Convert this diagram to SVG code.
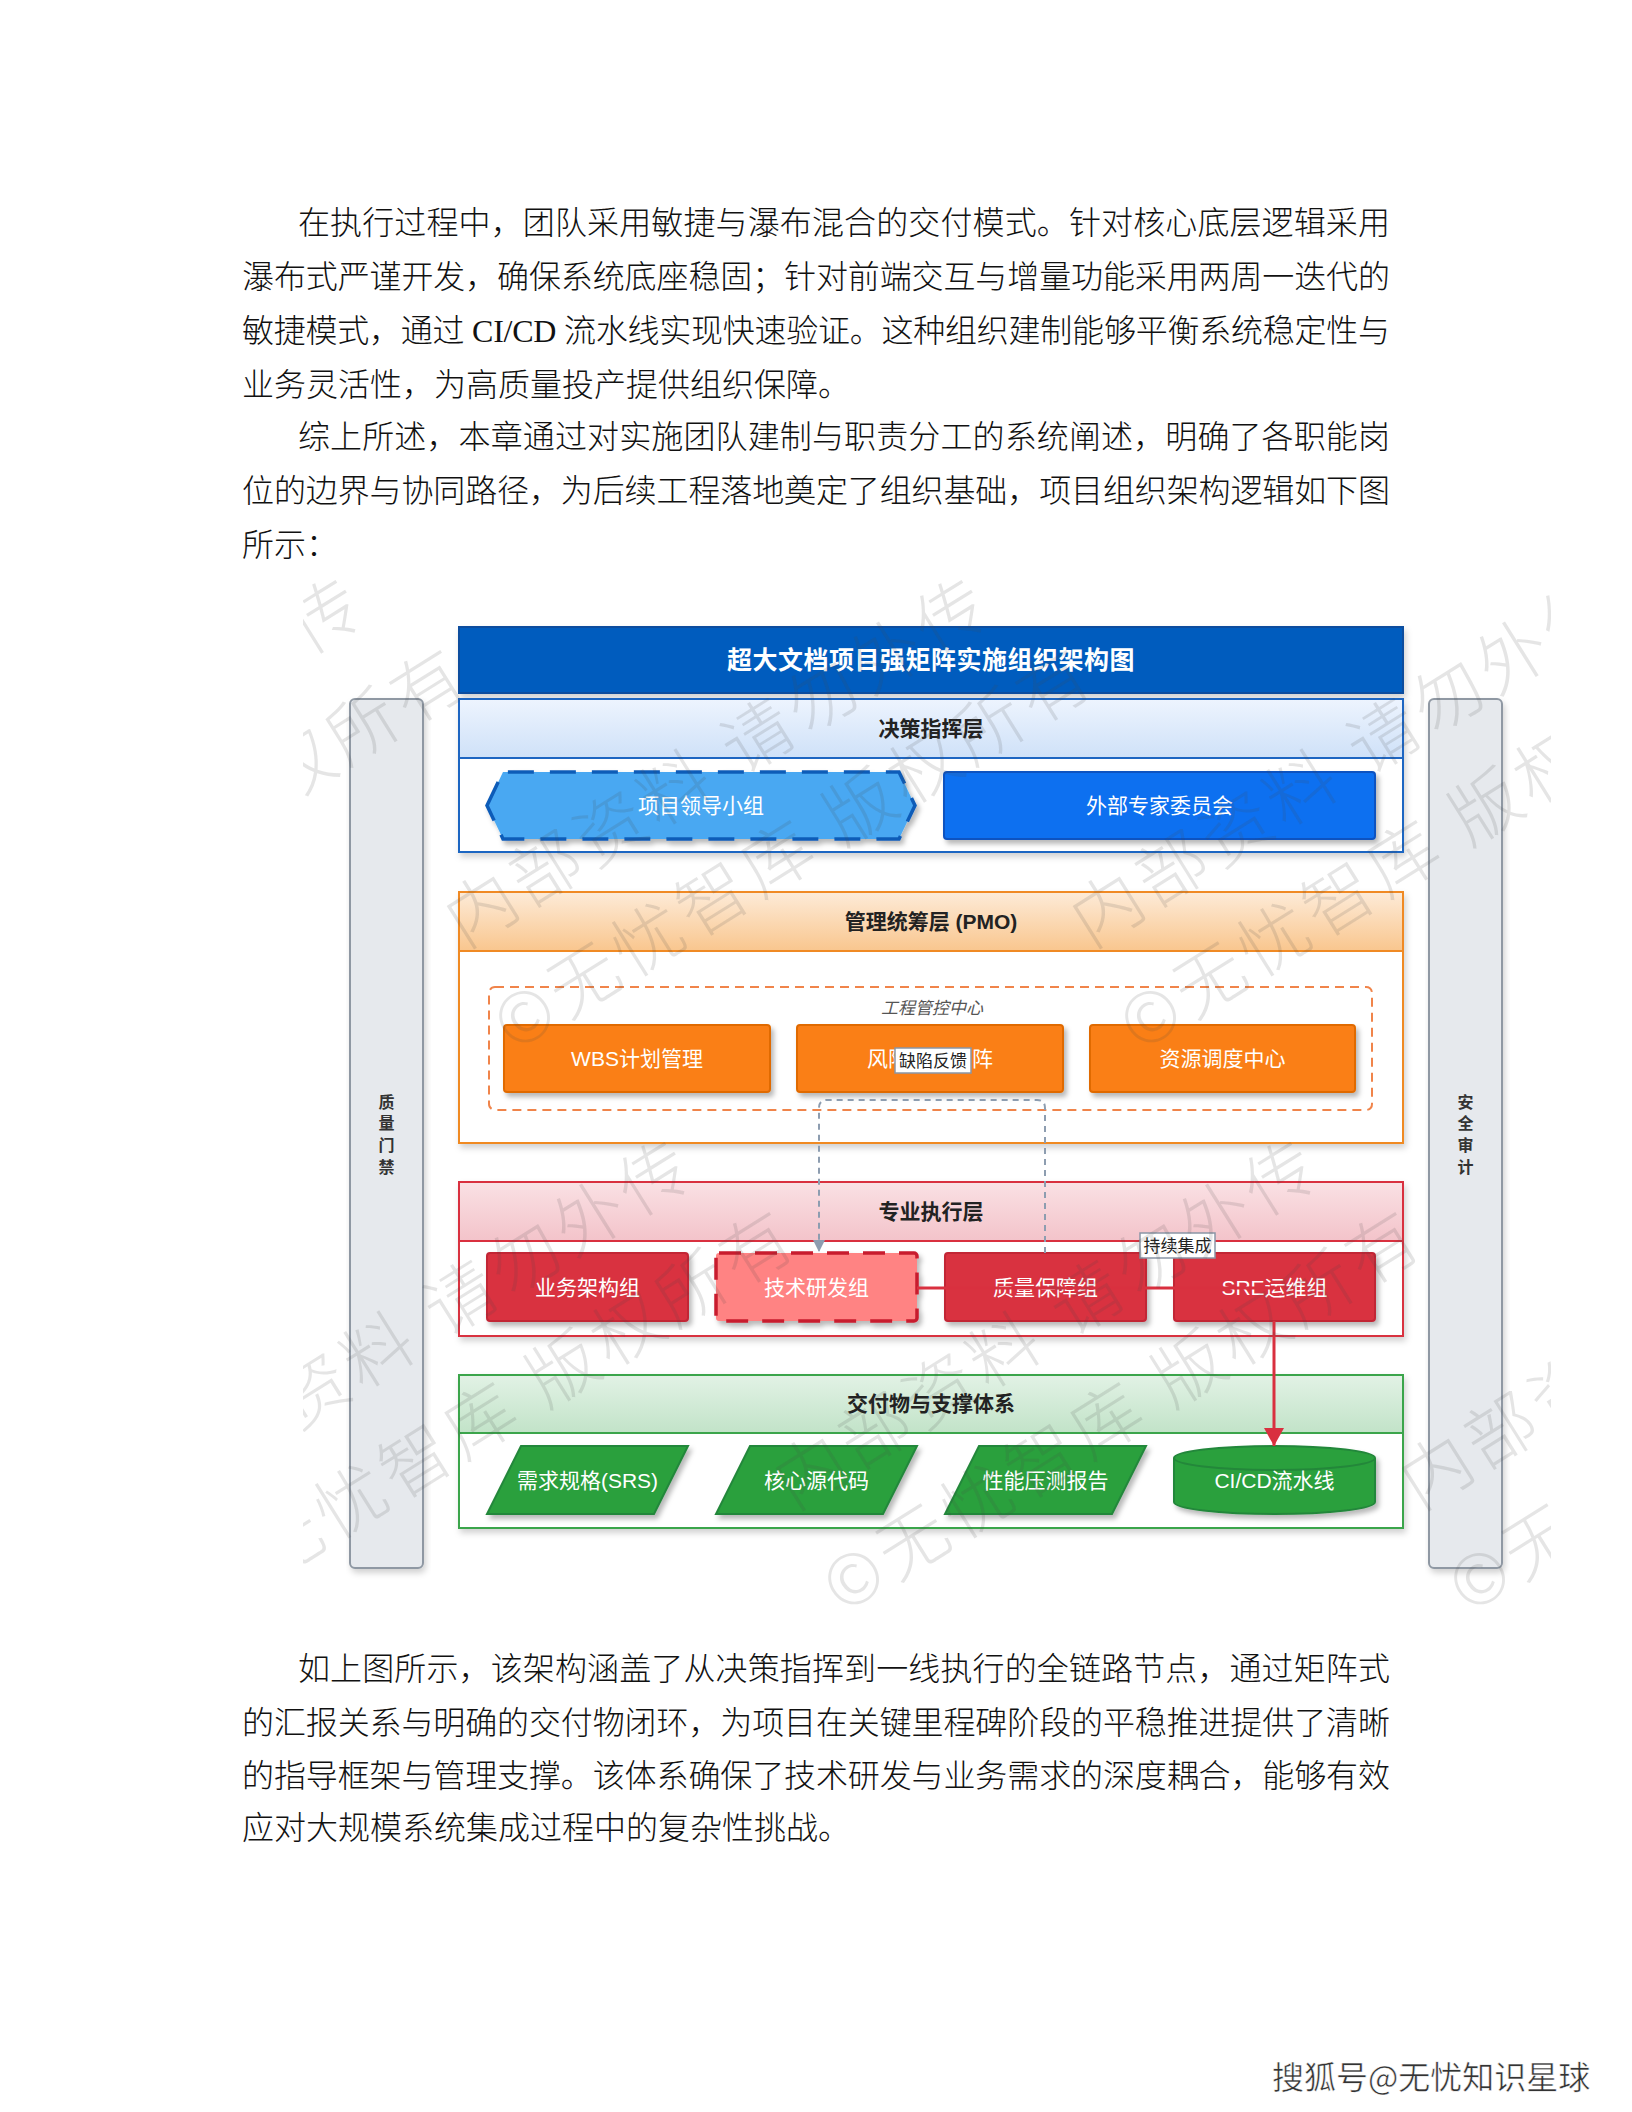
<svg xmlns="http://www.w3.org/2000/svg" width="1632" height="2112" viewBox="0 0 1632 2112">
<defs>
<style>
.body{font-family:"Liberation Serif","Noto Sans CJK SC",serif;font-size:32px;fill:#111;font-weight:300}
.dg{font-family:"Liberation Sans","Noto Sans CJK SC",sans-serif}
.hdr{font-size:21px;font-weight:bold;fill:#222;text-anchor:middle}
.nt{font-size:21px;fill:#fff;text-anchor:middle}
.side{font-size:16px;font-weight:bold;fill:#333;text-anchor:middle}
.lbl{font-size:17px;fill:#222;text-anchor:middle}
.wm{font-family:"Noto Sans CJK SC",sans-serif;font-size:70px;font-weight:300;fill:#444;fill-opacity:0.14;letter-spacing:6px}
</style>
<linearGradient id="gBlue" x1="0" y1="0" x2="0" y2="1"><stop offset="0" stop-color="#edf4fe"/><stop offset="1" stop-color="#cfe1f8"/></linearGradient>
<linearGradient id="gOrange" x1="0" y1="0" x2="0" y2="1"><stop offset="0" stop-color="#fdebd8"/><stop offset="1" stop-color="#f9c68e"/></linearGradient>
<linearGradient id="gRed" x1="0" y1="0" x2="0" y2="1"><stop offset="0" stop-color="#fae1e4"/><stop offset="1" stop-color="#f3c3ca"/></linearGradient>
<linearGradient id="gGreen" x1="0" y1="0" x2="0" y2="1"><stop offset="0" stop-color="#e2f2e5"/><stop offset="1" stop-color="#c2e3c8"/></linearGradient>
<filter id="sh" x="-10%" y="-20%" width="125%" height="150%"><feDropShadow dx="3" dy="4" stdDeviation="2.5" flood-color="#000" flood-opacity="0.28"/></filter>
<filter id="shL" x="-5%" y="-10%" width="115%" height="125%"><feDropShadow dx="2" dy="4" stdDeviation="3" flood-color="#000" flood-opacity="0.18"/></filter>
<marker id="arRed" markerUnits="userSpaceOnUse" markerWidth="20" markerHeight="22" refX="18" refY="11" orient="auto"><path d="M0,1 L18,11 L0,21 z" fill="#d9303f"/></marker>
<marker id="arGray" markerUnits="userSpaceOnUse" markerWidth="14" markerHeight="14" refX="12" refY="7" orient="auto"><path d="M0,1 L12,7 L0,13 z" fill="#8d9db0"/></marker>
<clipPath id="wmClip"><rect x="303" y="579" width="1248" height="1037"/></clipPath>
</defs>

<rect x="0" y="0" width="1632" height="2112" fill="#fff"/>

<g id="text-top" class="body">
<text x="298" y="234" textLength="1092" lengthAdjust="spacing">在执行过程中，团队采用敏捷与瀑布混合的交付模式。针对核心底层逻辑采用</text>
<text x="242" y="288" textLength="1148" lengthAdjust="spacing">瀑布式严谨开发，确保系统底座稳固；针对前端交互与增量功能采用两周一迭代的</text>
<text x="242" y="342" textLength="1148" lengthAdjust="spacing">敏捷模式，通过 CI/CD 流水线实现快速验证。这种组织建制能够平衡系统稳定性与</text>
<text x="242" y="396">业务灵活性，为高质量投产提供组织保障。</text>
<text x="298" y="448" textLength="1092" lengthAdjust="spacing">综上所述，本章通过对实施团队建制与职责分工的系统阐述，明确了各职能岗</text>
<text x="242" y="502" textLength="1148" lengthAdjust="spacing">位的边界与协同路径，为后续工程落地奠定了组织基础，项目组织架构逻辑如下图</text>
<text x="242" y="556">所示：</text>
</g>

<g id="side-left" class="dg">
<rect x="350" y="699" width="73" height="869" rx="5" fill="#e6e9ed" stroke="#8f98a3" stroke-width="2" filter="url(#shL)"/>
<text class="side" x="386.5" y="1108">质</text>
<text class="side" x="386.5" y="1129">量</text>
<text class="side" x="386.5" y="1151">门</text>
<text class="side" x="386.5" y="1173">禁</text>
</g>
<g id="side-right" class="dg">
<rect x="1429" y="699" width="73" height="869" rx="5" fill="#e6e9ed" stroke="#8f98a3" stroke-width="2" filter="url(#shL)"/>
<text class="side" x="1465.5" y="1108">安</text>
<text class="side" x="1465.5" y="1129">全</text>
<text class="side" x="1465.5" y="1151">审</text>
<text class="side" x="1465.5" y="1173">计</text>
</g>

<g id="title" class="dg">
<rect x="459" y="627" width="944" height="66" fill="#055cbe" stroke="#0a4e9e" stroke-width="2" filter="url(#shL)"/>
<text x="931" y="669" font-size="25" font-weight="bold" fill="#fff" text-anchor="middle" letter-spacing="0.5">超大文档项目强矩阵实施组织架构图</text>
</g>

<g id="layer-decision" class="dg">
<rect x="459" y="699" width="944" height="153" fill="#fff" stroke="#1e66c2" stroke-width="2" filter="url(#shL)"/>
<rect x="459" y="699" width="944" height="59" fill="url(#gBlue)" stroke="#1e66c2" stroke-width="2"/>
<text class="hdr" x="931" y="736">决策指挥层</text>
</g>
<g id="node-leader" class="dg">
<polygon points="487,805.5 503,772 899,772 915,805.5 899,839 503,839" fill="#4aa8f2" stroke="#0f5cb8" stroke-width="3.5" stroke-dasharray="26,16" filter="url(#sh)"/>
<text class="nt" x="701" y="813">项目领导小组</text>
</g>
<g id="node-expert" class="dg">
<rect x="944" y="772" width="431" height="67" rx="3" fill="#0b6ff0" stroke="#0a52c0" stroke-width="2" filter="url(#sh)"/>
<text class="nt" x="1159.5" y="813">外部专家委员会</text>
</g>

<g id="layer-pmo" class="dg">
<rect x="459" y="892" width="944" height="251" fill="#fff" stroke="#f08a24" stroke-width="2" filter="url(#shL)"/>
<rect x="459" y="892" width="944" height="59" fill="url(#gOrange)" stroke="#f08a24" stroke-width="2"/>
<text class="hdr" x="931" y="929">管理统筹层 (PMO)</text>
</g>
<g id="group-center" class="dg">
<rect x="489" y="987" width="883" height="123" rx="6" fill="none" stroke="#f0844a" stroke-width="2" stroke-dasharray="9,6"/>
<text x="932" y="1014" font-size="17" font-style="italic" fill="#555" text-anchor="middle">工程管控中心</text>
</g>
<g id="node-wbs" class="dg">
<rect x="504" y="1025" width="266" height="67" rx="3" fill="#fa7f15" stroke="#e06b06" stroke-width="2" filter="url(#sh)"/>
<text class="nt" x="637" y="1066">WBS计划管理</text>
</g>
<g id="node-risk" class="dg">
<rect x="797" y="1025" width="266" height="67" rx="3" fill="#fa7f15" stroke="#e06b06" stroke-width="2" filter="url(#sh)"/>
<text class="nt" x="930" y="1066">风险评估矩阵</text>
</g>
<g id="node-resource" class="dg">
<rect x="1090" y="1025" width="265" height="67" rx="3" fill="#fa7f15" stroke="#e06b06" stroke-width="2" filter="url(#sh)"/>
<text class="nt" x="1222.5" y="1066">资源调度中心</text>
</g>

<g id="layer-exec" class="dg">
<rect x="459" y="1182" width="944" height="154" fill="#fff" stroke="#d9303f" stroke-width="2" filter="url(#shL)"/>
<rect x="459" y="1182" width="944" height="59" fill="url(#gRed)" stroke="#d9303f" stroke-width="2"/>
<text class="hdr" x="931" y="1219">专业执行层</text>
</g>
<g id="node-biz" class="dg">
<rect x="487" y="1253" width="201" height="68" rx="3" fill="#d9303f" stroke="#c22636" stroke-width="2" filter="url(#sh)"/>
<text class="nt" x="587.5" y="1295">业务架构组</text>
</g>
<g id="node-dev" class="dg">
<rect x="716" y="1253" width="201" height="68" rx="3" fill="#ff8383" stroke="#c81e2e" stroke-width="3.5" stroke-dasharray="22,14" filter="url(#sh)"/>
<text class="nt" x="816.5" y="1295">技术研发组</text>
</g>
<g id="node-qa" class="dg">
<rect x="945" y="1253" width="201" height="68" rx="3" fill="#d9303f" stroke="#c22636" stroke-width="2" filter="url(#sh)"/>
<text class="nt" x="1045.5" y="1295">质量保障组</text>
</g>
<g id="node-sre" class="dg">
<rect x="1174" y="1253" width="201" height="68" rx="3" fill="#d9303f" stroke="#c22636" stroke-width="2" filter="url(#sh)"/>
<text class="nt" x="1274.5" y="1295">SRE运维组</text>
</g>

<g id="layer-delivery" class="dg">
<rect x="459" y="1375" width="944" height="153" fill="#fff" stroke="#3ba54b" stroke-width="2" filter="url(#shL)"/>
<rect x="459" y="1375" width="944" height="58" fill="url(#gGreen)" stroke="#3ba54b" stroke-width="2"/>
<text class="hdr" x="931" y="1411">交付物与支撑体系</text>
</g>
<g id="node-srs" class="dg">
<polygon points="521,1446 688,1446 654,1514 487,1514" fill="#2ca03c" stroke="#23873a" stroke-width="2" filter="url(#sh)"/>
<text class="nt" x="587.5" y="1488">需求规格(SRS)</text>
</g>
<g id="node-src" class="dg">
<polygon points="750,1446 917,1446 883,1514 716,1514" fill="#2ca03c" stroke="#23873a" stroke-width="2" filter="url(#sh)"/>
<text class="nt" x="816.5" y="1488">核心源代码</text>
</g>
<g id="node-perf" class="dg">
<polygon points="979,1446 1146,1446 1112,1514 945,1514" fill="#2ca03c" stroke="#23873a" stroke-width="2" filter="url(#sh)"/>
<text class="nt" x="1045.5" y="1488">性能压测报告</text>
</g>
<g id="node-cicd" class="dg">
<path d="M1174,1458 A100.5,12 0 0 1 1375,1458 L1375,1502 A100.5,12 0 0 1 1174,1502 Z" fill="#2ca03c" stroke="#23873a" stroke-width="2" filter="url(#sh)"/>
<path d="M1174,1458 A100.5,12 0 0 0 1375,1458" fill="none" stroke="#23873a" stroke-width="2"/>
<text class="nt" x="1274.5" y="1488">CI/CD流水线</text>
</g>

<g id="connectors" class="dg">
<path d="M1045,1253 L1045,1108 Q1045,1100 1037,1100 L827,1100 Q819,1100 819,1108 L819,1252" fill="none" stroke="#8d9db0" stroke-width="2" stroke-dasharray="6,5" marker-end="url(#arGray)"/>
<rect x="895" y="1048" width="76" height="25" fill="#fff" stroke="#8a96a6" stroke-width="1.5"/>
<text class="lbl" x="933" y="1067">缺陷反馈</text>
<line x1="917" y1="1288" x2="1280" y2="1288" stroke="#d9303f" stroke-width="3"/>
<rect x="1140" y="1233" width="75" height="25" fill="#fff" stroke="#8a96a6" stroke-width="1.5"/>
<text class="lbl" x="1177.5" y="1252">持续集成</text>
<line x1="1274" y1="1321" x2="1274" y2="1446" stroke="#d9303f" stroke-width="3" marker-end="url(#arRed)"/>
</g>

<g id="watermark" clip-path="url(#wmClip)" class="wm">
<g transform="translate(-161,949) rotate(-32)"><text x="0" y="0">内部资料 请勿外传</text><text x="-14" y="114">©无忧智库 版权所有</text></g>
<g transform="translate(465,949) rotate(-32)"><text x="0" y="0">内部资料 请勿外传</text><text x="-14" y="114">©无忧智库 版权所有</text></g>
<g transform="translate(1091,949) rotate(-32)"><text x="0" y="0">内部资料 请勿外传</text><text x="-14" y="114">©无忧智库 版权所有</text></g>
<g transform="translate(168,1511) rotate(-32)"><text x="0" y="0">内部资料 请勿外传</text><text x="-14" y="114">©无忧智库 版权所有</text></g>
<g transform="translate(794,1511) rotate(-32)"><text x="0" y="0">内部资料 请勿外传</text><text x="-14" y="114">©无忧智库 版权所有</text></g>
<g transform="translate(1420,1511) rotate(-32)"><text x="0" y="0">内部资料 请勿外传</text><text x="-14" y="114">©无忧智库 版权所有</text></g>
</g>

<g id="text-bottom" class="body">
<text x="298" y="1680" textLength="1092" lengthAdjust="spacing">如上图所示，该架构涵盖了从决策指挥到一线执行的全链路节点，通过矩阵式</text>
<text x="242" y="1734" textLength="1148" lengthAdjust="spacing">的汇报关系与明确的交付物闭环，为项目在关键里程碑阶段的平稳推进提供了清晰</text>
<text x="242" y="1787" textLength="1148" lengthAdjust="spacing">的指导框架与管理支撑。该体系确保了技术研发与业务需求的深度耦合，能够有效</text>
<text x="242" y="1839">应对大规模系统集成过程中的复杂性挑战。</text>
</g>

<g id="footer">
<text x="1272" y="2089" font-family="Noto Sans CJK SC, sans-serif" font-size="32" fill="#333" stroke="#fff" stroke-width="0.5">搜狐号@无忧知识星球</text>
</g>
</svg>
